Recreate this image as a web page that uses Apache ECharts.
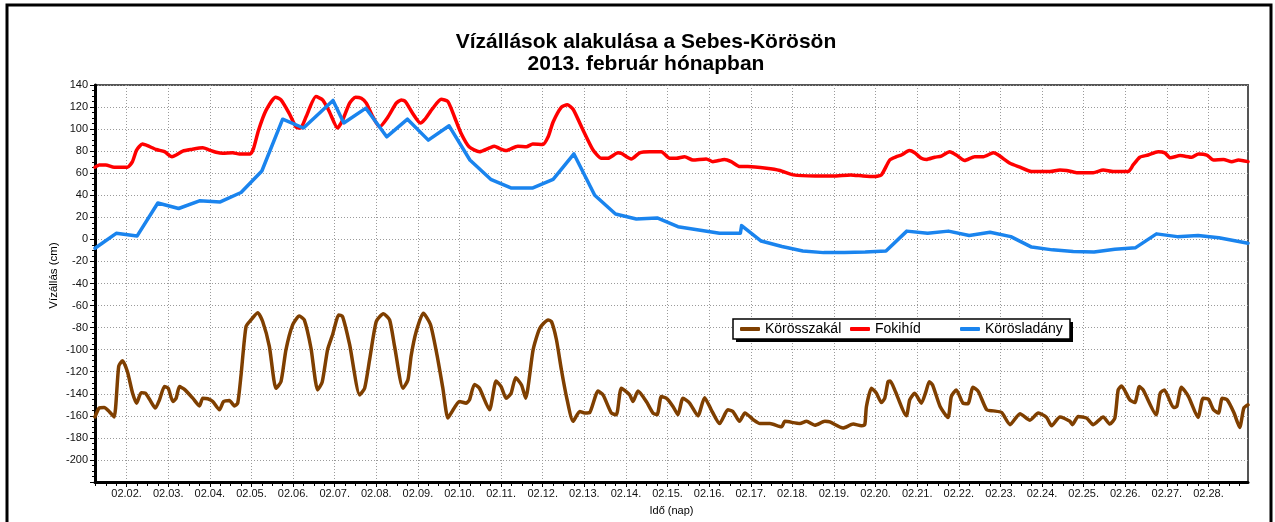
<!DOCTYPE html>
<html>
<head>
<meta charset="utf-8">
<script src="https://cdn.jsdelivr.net/npm/echarts@6/dist/echarts.min.js"></script>
<style>
  html, body { margin: 0; padding: 0; background: #fff; }
  #chart { width: 1275px; height: 522px; }
</style>
</head>
<body>
<div id="chart"></div>
<script>
const titleLines = ["Vízállások alakulása a Sebes-Körösön", "2013. február hónapban"];
const seriesNames = ["Körösszakál", "Fokihíd", "Körösladány"];
const seriesColors = ["#7f3f00", "#ff0000", "#1a84ee"];
const xAxisName = "Idő (nap)";
const yAxisName = "Vízállás (cm)";

// x = day of February (fractional), y = cm
const xRange = [1.24, 28.95];
const dayTicks = [2, 3, 4, 5, 6, 7, 8, 9, 10, 11, 12, 13, 14, 15, 16, 17, 18, 19, 20, 21, 22, 23, 24, 25, 26, 27, 28];
const yRange = [-220, 140];
const yStep = 20;

const korosszakal = [
  [1.24, -161], [1.34, -153], [1.46, -152.5], [1.58, -156], [1.70, -161], [1.81, -115], [1.90, -110],
  [2.02, -120], [2.14, -139], [2.24, -148.5], [2.35, -139], [2.45, -139.5], [2.55, -145], [2.69, -153],
  [2.79, -145.5], [2.91, -133.5], [3.00, -135], [3.11, -147], [3.19, -144], [3.27, -133.5], [3.39, -136],
  [3.59, -144], [3.75, -151], [3.83, -144], [3.95, -144.5], [4.07, -147], [4.23, -154.5], [4.33, -147],
  [4.47, -146], [4.59, -151], [4.67, -148.5], [4.75, -123], [4.87, -79], [4.99, -73], [5.15, -66.5],
  [5.27, -74.5], [5.43, -97], [5.59, -135], [5.71, -129], [5.83, -100], [5.99, -77.5], [6.15, -69.5],
  [6.27, -73], [6.43, -98.5], [6.59, -136.5], [6.70, -129.5], [6.83, -100], [6.95, -86.5], [7.10, -68.5],
  [7.19, -70], [7.36, -95.5], [7.60, -141], [7.72, -135], [7.84, -109], [8.00, -74.5], [8.17, -67.5],
  [8.32, -73], [8.44, -97], [8.64, -135], [8.76, -127.5], [8.84, -105], [8.96, -83.5], [9.13, -67],
  [9.30, -77], [9.46, -105], [9.60, -135], [9.72, -162], [9.80, -157.5], [10.00, -147], [10.16, -148.5],
  [10.24, -145.5], [10.36, -131.5], [10.48, -135], [10.72, -154.5], [10.88, -128.5], [11.00, -133.5],
  [11.12, -144], [11.24, -139.5], [11.35, -125.5], [11.49, -132], [11.59, -144], [11.77, -100],
  [11.93, -80.5], [12.13, -73], [12.21, -74.5], [12.33, -91], [12.45, -118.5], [12.57, -142.5],
  [12.73, -165], [12.89, -156], [13.01, -157.5], [13.13, -157], [13.33, -137.5], [13.45, -141],
  [13.65, -157.5], [13.77, -159], [13.89, -135], [14.09, -141], [14.17, -147], [14.29, -137.5],
  [14.49, -147], [14.65, -157.5], [14.75, -159], [14.85, -142.5], [14.97, -144], [15.13, -151.5],
  [15.25, -159], [15.37, -144], [15.53, -148.5], [15.73, -160], [15.89, -143.5], [16.05, -154.5],
  [16.25, -167], [16.45, -154.5], [16.57, -156], [16.73, -165], [16.86, -157.5], [17.06, -163.5],
  [17.22, -167], [17.46, -167], [17.74, -170], [17.82, -165], [18.18, -167], [18.34, -165],
  [18.54, -168.5], [18.78, -165], [18.90, -165.5], [19.22, -171], [19.46, -167.5], [19.66, -169],
  [19.74, -168], [19.78, -151.5], [19.90, -135], [20.02, -139.5], [20.14, -148], [20.22, -144],
  [20.30, -129], [20.35, -128.5], [20.46, -136.5], [20.74, -160], [20.82, -145.5], [20.94, -139.5],
  [21.10, -148.5], [21.21, -138], [21.29, -129], [21.37, -132], [21.55, -151.5], [21.74, -161.5],
  [21.82, -142.5], [21.94, -136.5], [22.10, -148.5], [22.22, -149], [22.34, -134], [22.47, -138],
  [22.67, -154.5], [22.83, -155.5], [23.03, -157], [23.23, -168], [23.47, -158], [23.71, -164],
  [23.91, -157.5], [24.11, -161.5], [24.23, -169], [24.43, -161], [24.67, -165], [24.73, -168],
  [24.87, -160.5], [25.07, -162], [25.23, -168], [25.47, -161], [25.63, -167.5], [25.75, -162],
  [25.83, -136.5], [25.91, -133], [26.11, -145.5], [26.23, -148], [26.34, -133.5], [26.43, -136.5],
  [26.74, -159], [26.84, -139.5], [26.94, -136.5], [27.16, -152.5], [27.24, -151.5], [27.35, -134],
  [27.52, -142.5], [27.75, -161.5], [27.87, -144], [28.00, -145], [28.12, -154.5], [28.24, -157.5],
  [28.33, -144], [28.45, -145.5], [28.61, -157], [28.75, -170.5], [28.85, -153], [28.95, -150]
];

const fokihid = [
  [1.24, 65.5], [1.34, 67.5], [1.50, 67.5], [1.70, 65.5], [2.02, 65.5], [2.14, 70.5], [2.24, 81],
  [2.38, 86.5], [2.50, 85], [2.71, 81.5], [2.91, 79.5], [3.09, 75], [3.19, 76.5], [3.35, 80],
  [3.55, 81.5], [3.83, 83], [3.99, 81], [4.15, 79], [4.31, 78], [4.55, 78.5], [4.71, 77.5], [4.97, 77.5],
  [5.05, 82.5], [5.17, 99], [5.35, 117], [5.58, 129], [5.71, 126.5], [5.91, 114], [6.07, 102],
  [6.18, 101], [6.31, 111], [6.55, 129.5], [6.71, 126.5], [6.87, 116], [7.07, 101], [7.19, 108],
  [7.36, 123.5], [7.50, 129], [7.64, 128], [7.76, 123.5], [7.92, 111], [8.08, 102], [8.28, 111],
  [8.48, 123.5], [8.60, 126.5], [8.70, 125], [8.88, 114], [9.06, 105.5], [9.16, 108.5], [9.36, 119],
  [9.56, 127], [9.72, 125], [9.88, 111], [10.04, 96], [10.23, 84], [10.48, 79.5], [10.72, 83],
  [10.84, 84.5], [10.96, 82.5], [11.12, 80.5], [11.40, 84.5], [11.61, 84], [11.76, 86.5], [12.00, 86],
  [12.13, 93], [12.25, 106.5], [12.45, 120], [12.59, 122], [12.73, 118], [12.97, 99], [13.21, 81],
  [13.41, 73.5], [13.57, 73.5], [13.81, 78.5], [13.89, 78], [14.13, 73], [14.33, 78.5], [14.57, 79.5],
  [14.85, 79.5], [15.05, 73.5], [15.21, 73.5], [15.41, 75], [15.61, 72], [15.93, 73], [16.09, 70.5],
  [16.37, 72.5], [16.53, 70.5], [16.74, 66], [16.93, 66], [17.38, 64.5], [17.70, 62.5], [18.02, 58.5],
  [18.54, 57.5], [18.98, 57.5], [19.40, 58.5], [19.70, 57.5], [19.98, 57], [20.14, 58.5], [20.34, 72],
  [20.50, 75], [20.62, 76.5], [20.81, 80.5], [20.94, 78.5], [21.10, 73.5], [21.22, 72.5], [21.42, 74.5],
  [21.58, 75.5], [21.78, 79.5], [21.94, 76.5], [22.14, 71.5], [22.38, 75], [22.59, 75], [22.83, 78.5],
  [22.95, 76.5], [23.23, 69], [23.47, 65.5], [23.75, 61.5], [24.19, 61.5], [24.43, 63], [24.59, 62.5],
  [24.83, 60.5], [25.23, 60.5], [25.47, 63], [25.71, 61.5], [26.07, 61.5], [26.19, 67.5], [26.35, 74.5],
  [26.55, 76.5], [26.79, 79.5], [26.95, 78.5], [27.08, 74], [27.32, 76], [27.60, 74.5], [27.76, 77.5],
  [27.96, 76.5], [28.12, 72], [28.36, 72.5], [28.56, 70.5], [28.72, 72], [28.95, 70.5]
];

const koroslad = [
  [1.24, -8], [1.75, 5.5], [2.25, 3], [2.75, 33], [3.25, 28], [3.75, 35], [4.25, 34], [4.75, 42.5],
  [5.25, 62], [5.75, 109], [6.25, 101], [6.96, 126], [7.22, 105.5], [7.75, 119], [8.25, 93],
  [8.75, 109], [9.25, 90], [9.75, 103], [10.25, 72], [10.75, 54.5], [11.25, 46.5], [11.75, 46.5],
  [12.25, 54.5], [12.75, 77.5], [13.25, 40], [13.75, 23], [14.25, 18.5], [14.75, 19.5], [15.25, 11.5],
  [15.75, 8.5], [16.25, 5.5], [16.75, 5.5], [16.78, 12.5], [17.25, -1.5], [17.75, -6.5], [18.25, -10.5],
  [18.75, -12], [19.25, -12], [19.75, -11.5], [20.25, -10.5], [20.75, 7.5], [21.25, 5.5], [21.75, 7.5],
  [22.25, 3.5], [22.75, 6.5], [23.25, 2.5], [23.75, -7], [24.25, -9.5], [24.75, -11], [25.25, -11.5],
  [25.75, -9], [26.25, -7.5], [26.75, 5], [27.25, 2.5], [27.75, 3.5], [28.25, 1.5], [28.95, -3.5]
];

// 6-hour minor tick positions along the x axis
const quarterTicks = [];
for (let d = 1; d <= 28; d++) {
  for (const q of [0.25, 0.5, 0.75]) {
    const v = d + q;
    if (v > xRange[0] && v < xRange[1]) quarterTicks.push(v);
  }
}

const FONT = "'Liberation Sans', Arial, sans-serif";
const legendBox = { x: 733, y: 319, width: 337, height: 20 };
const legendItemLeft = [740, 850, 960];

function dayLabel(value) {
  const day = Math.round(value);
  return "02." + String(day).padStart(2, "0") + ".";
}

function lineSeries(name, data, color, smooth) {
  return {
    name,
    type: "line",
    data,
    xAxisIndex: 0,
    showSymbol: false,
    smooth,
    lineStyle: { width: 3.5, color, cap: "round", join: "round" },
    itemStyle: { color },
    emphasis: { disabled: true },
  };
}

function legendFor(name, left) {
  return {
    data: [name],
    left,
    top: legendBox.y + 3,
    padding: 0,
    itemWidth: 20,
    itemHeight: 4,
    icon: "roundRect",
    selectedMode: false,
    z: 10,
    textStyle: { fontFamily: FONT, fontSize: 14, color: "#000" },
  };
}

const chart = echarts.init(document.getElementById("chart"), null, { renderer: "canvas" });

chart.setOption({
  animation: false,
  backgroundColor: "#ffffff",
  textStyle: { fontFamily: FONT },
  title: {
    text: titleLines.join("\n"),
    left: 646,
    top: 31,
    textAlign: "center",
    padding: 0,
    textStyle: {
      fontFamily: FONT,
      fontSize: 21,
      fontWeight: "bold",
      lineHeight: 22,
      color: "#000",
    },
  },
  graphic: [
    {
      type: "rect",
      shape: { x: 7, y: 5, width: 1264, height: 600 },
      style: { fill: null, stroke: "#000", lineWidth: 3 },
      silent: true,
      z: 100,
    },
    {
      type: "rect",
      shape: { x: legendBox.x + 3, y: legendBox.y + 3, width: legendBox.width, height: legendBox.height },
      style: { fill: "#000", stroke: null },
      silent: true,
      z: 8,
    },
    {
      type: "rect",
      shape: { x: legendBox.x, y: legendBox.y, width: legendBox.width, height: legendBox.height },
      style: { fill: "#fff", stroke: "#000", lineWidth: 1.5 },
      silent: true,
      z: 9,
    },
  ],
  legend: seriesNames.map((name, i) => legendFor(name, legendItemLeft[i])),
  grid: {
    left: 95,
    right: 27,
    top: 85,
    bottom: 40,
    show: true,
    borderColor: "#555",
    borderWidth: 2,
    backgroundColor: "#fff",
  },
  xAxis: [
    {
      type: "value",
      position: "bottom",
      min: xRange[0],
      max: xRange[1],
      name: xAxisName,
      nameLocation: "middle",
      nameGap: 23,
      nameMoveOverlap: false,
      nameTextStyle: { fontFamily: FONT, fontSize: 11, color: "#000" },
      axisLine: { show: true, onZero: false, lineStyle: { color: "#000", width: 3 } },
      axisTick: { show: true, length: 5, customValues: dayTicks, lineStyle: { color: "#000", width: 1 } },
      axisLabel: {
        customValues: dayTicks,
        formatter: dayLabel,
        fontSize: 11,
        color: "#111",
        margin: 6,
      },
      splitLine: { show: true, lineStyle: { color: "#9a9a9a", type: [1, 2], width: 1 } },
    },
    {
      type: "value",
      position: "bottom",
      offset: 0,
      min: xRange[0],
      max: xRange[1],
      axisLine: { show: false, onZero: false },
      axisTick: { show: true, length: 4, customValues: quarterTicks, lineStyle: { color: "#000", width: 1 } },
      axisLabel: { show: false },
      splitLine: { show: false },
    },
  ],
  yAxis: {
    type: "value",
    min: yRange[0],
    max: yRange[1],
    interval: yStep,
    name: yAxisName,
    nameLocation: "middle",
    nameGap: 35,
    nameMoveOverlap: false,
    nameTextStyle: { fontFamily: FONT, fontSize: 11.5, color: "#000", padding: [0, 0, 0, 16] },
    axisLine: { show: true, onZero: false, lineStyle: { color: "#000", width: 3 } },
    axisTick: { show: true, length: 5, lineStyle: { color: "#000", width: 1 } },
    minorTick: { show: true, splitNumber: 4, length: 3, lineStyle: { color: "#000", width: 1 } },
    axisLabel: {
      fontSize: 11,
      color: "#111",
      margin: 7,
      formatter: (v) => (v === yRange[0] ? "" : String(v)),
    },
    splitLine: { show: true, lineStyle: { color: "#9a9a9a", type: [1, 2], width: 1 } },
  },
  series: [
    lineSeries(seriesNames[0], korosszakal, seriesColors[0], 0.2),
    lineSeries(seriesNames[1], fokihid, seriesColors[1], 0.2),
    lineSeries(seriesNames[2], koroslad, seriesColors[2], false),
  ],
});
</script>
</body>
</html>
